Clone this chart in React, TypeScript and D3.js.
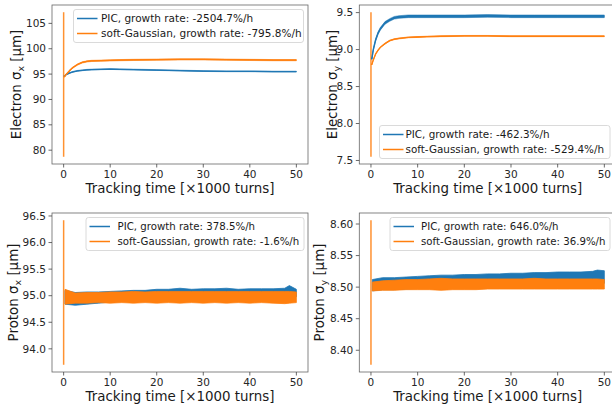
import React from 'react';
import * as d3 from 'd3';

const BLUE = '#1f77b4';
const ORANGE = '#ff7f0e';

// tracking time samples, in 1000 turns
const tElectron = [0.2, 0.5, 1, 1.5, 2, 3, 4, 5, 6, 8, 10, 12, 15, 20, 25, 30, 35, 40, 45, 50];
const tProton = [0.3, 2.5, 5, 7.5, 10, 12.5, 15, 17.5, 20, 22.5, 25, 27.5, 30, 32.5, 35, 37.5, 40, 42.5, 45, 47.5, 48.5, 50];
const xTicks = [0, 10, 20, 30, 40, 50];

// electron sigma_x [um]
const exPIC = [94.6, 94.9, 95.1, 95.3, 95.45, 95.65, 95.75, 95.85, 95.9, 95.95, 96.0, 95.95, 95.9, 95.8, 95.7, 95.6, 95.55, 95.55, 95.5, 95.5];
const exSoft = [94.5, 94.9, 95.4, 95.9, 96.3, 96.9, 97.3, 97.5, 97.6, 97.65, 97.7, 97.75, 97.8, 97.85, 97.9, 97.9, 97.85, 97.8, 97.75, 97.75];
const exNoise = [0.08, 0.12];
const exSpike = [78.7, 107.2];
const exTicks = [80, 85, 90, 95, 100, 105];

// electron sigma_y [um]
const eyPIC = [8.88, 9.0, 9.13, 9.22, 9.28, 9.36, 9.4, 9.43, 9.44, 9.45, 9.45, 9.45, 9.45, 9.45, 9.455, 9.45, 9.45, 9.45, 9.45, 9.45];
const eySoft = [8.8, 8.86, 8.94, 8.99, 9.03, 9.08, 9.12, 9.14, 9.15, 9.165, 9.17, 9.175, 9.18, 9.185, 9.185, 9.18, 9.18, 9.18, 9.18, 9.18];
const eyNoise = [0.018, 0.006];
const eySpike = [7.55, 9.505];
const eyTicks = [7.5, 8.0, 8.5, 9.0, 9.5];

// proton sigma_x [um], upper / lower edge of the noisy band
const pxPICHi = [95.1, 95.06, 95.07, 95.07, 95.08, 95.09, 95.1, 95.1, 95.12, 95.12, 95.14, 95.12, 95.13, 95.13, 95.14, 95.12, 95.13, 95.13, 95.13, 95.14, 95.19, 95.12];
const pxPICLo = [94.84, 94.82, 94.84, 94.86, 94.88, 94.89, 94.9, 94.91, 94.92, 94.93, 94.94, 94.94, 94.95, 94.95, 94.95, 94.96, 94.96, 94.96, 94.97, 94.97, 94.97, 94.98];
const pxSoftHi = [95.12, 95.05, 95.06, 95.06, 95.07, 95.07, 95.08, 95.07, 95.08, 95.08, 95.08, 95.08, 95.08, 95.08, 95.08, 95.08, 95.08, 95.08, 95.08, 95.08, 95.08, 95.07];
const pxSoftLo = [94.84, 94.86, 94.86, 94.87, 94.86, 94.87, 94.86, 94.87, 94.86, 94.87, 94.86, 94.87, 94.86, 94.87, 94.86, 94.87, 94.86, 94.87, 94.86, 94.85, 94.86, 94.87];
const pxSpike = [93.7, 96.42];
const pxTicks = [94.0, 94.5, 95.0, 95.5, 96.0, 96.5];

// proton sigma_y [um]
const pyPICHi = [8.512, 8.515, 8.515, 8.516, 8.517, 8.518, 8.519, 8.519, 8.52, 8.52, 8.521, 8.521, 8.522, 8.522, 8.523, 8.523, 8.524, 8.524, 8.524, 8.525, 8.527, 8.526];
const pyPICLo = [8.494, 8.496, 8.496, 8.497, 8.498, 8.499, 8.5, 8.5, 8.501, 8.502, 8.502, 8.503, 8.503, 8.504, 8.504, 8.505, 8.505, 8.505, 8.506, 8.506, 8.506, 8.506];
const pySoftHi = [8.508, 8.51, 8.511, 8.512, 8.512, 8.513, 8.514, 8.513, 8.513, 8.513, 8.513, 8.513, 8.513, 8.513, 8.514, 8.513, 8.513, 8.513, 8.513, 8.513, 8.513, 8.512];
const pySoftLo = [8.494, 8.495, 8.495, 8.496, 8.496, 8.496, 8.495, 8.496, 8.496, 8.496, 8.497, 8.497, 8.497, 8.497, 8.497, 8.497, 8.497, 8.497, 8.497, 8.497, 8.497, 8.497];
const pySpike = [8.377, 8.606];
const pyTicks = [8.4, 8.45, 8.5, 8.55, 8.6];

const legendLabels = [
  ['PIC, growth rate: -2504.7%/h', 'soft-Gaussian, growth rate: -795.8%/h'],
  ['PIC, growth rate: -462.3%/h', 'soft-Gaussian, growth rate: -529.4%/h'],
  ['PIC, growth rate: 378.5%/h', 'soft-Gaussian, growth rate: -1.6%/h'],
  ['PIC, growth rate: 646.0%/h', 'soft-Gaussian, growth rate: 36.9%/h'],
];

const FONT = 'DejaVu Sans';

type Series = { t: number[]; lo: number[]; hi: number[]; mid?: number[]; color: string };

const band = (t: number[], mid: number[], noise: number, color: string): Series => ({
  t, mid, color,
  lo: mid.map(v => v - noise),
  hi: mid.map(v => v + noise),
});

function Panel(props: any) {
  const { id, box, series, spike, yTicks, yFmt, name, sub, legend, labels, ylabX } = props;
  const [l, t, r, b] = box;
  const x = d3.scaleLinear().domain([-2.5, 52.5]).range([l, r]);
  const all = [...spike, ...series.flatMap((s: Series) => [...s.lo, ...s.hi])];
  const [mn, mx] = d3.extent(all) as [number, number];
  const pad = (mx - mn) * 0.05;
  const y = d3.scaleLinear().domain([mn - pad, mx + pad]).range([b, t]);
  const fmt = d3.format(yFmt);

  return (
    <g fontFamily={FONT}>
      <defs>
        <clipPath id={`clip${id}`}>
          <rect x={l} y={t} width={r - l} height={b - t} />
        </clipPath>
      </defs>
      <g clipPath={`url(#clip${id})`}>
        <line x1={x(0)} x2={x(0)} y1={y(spike[0])} y2={y(spike[1])} stroke={ORANGE} strokeWidth={1.5} opacity={0.85} />
        {series.map((s: Series, k: number) => {
          const area = d3.area<number>()
            .x((_, i) => x(s.t[i]))
            .y0((_, i) => y(s.lo[i]))
            .y1((_, i) => y(s.hi[i]));
          const pts = s.mid ? [[0, s.mid[0]], ...s.t.map((tt, i) => [tt, s.mid![i]])] : [];
          const line = d3.line().x(d => x(d[0])).y(d => y(d[1]));
          return (
            <g key={k}>
              <path d={area(s.lo) || ''} fill={s.color} stroke={s.color} strokeWidth={s.mid ? 0.5 : 0.8} />
              {s.mid && <path d={line(pts as [number, number][]) || ''} fill="none" stroke={s.color} strokeWidth={1.3} />}
            </g>
          );
        })}
      </g>
      <rect x={l} y={t} width={r - l} height={b - t} fill="none" stroke="#666" strokeWidth={0.8} />
      {xTicks.map(v => (
        <g key={v}>
          <line x1={x(v)} x2={x(v)} y1={b} y2={b + 3.5} stroke="#444" strokeWidth={0.8} />
          <text x={x(v)} y={b + 13.5} textAnchor="middle" fontSize={10.5} fill="#262626">{v}</text>
        </g>
      ))}
      {yTicks.map((v: number) => (
        <g key={v}>
          <line x1={l - 3.5} x2={l} y1={y(v)} y2={y(v)} stroke="#444" strokeWidth={0.8} />
          <text x={l - 6} y={y(v)} dy="0.35em" textAnchor="end" fontSize={10.5} fill="#262626">{fmt(v)}</text>
        </g>
      ))}
      <text x={(l + r) / 2} y={b + 29} textAnchor="middle" fontSize={13.4} fill="#1a1a1a">
        Tracking time [×1000 turns]
      </text>
      <text transform={`translate(${ylabX},${(t + b) / 2}) rotate(-90)`} textAnchor="middle" fontSize={13.4} fill="#1a1a1a">
        {name} σ<tspan fontSize={9.5} dy={3}>{sub}</tspan><tspan dy={-3}> [μm]</tspan>
      </text>
      <g>
        <rect x={legend.x} y={legend.y} width={legend.r - legend.x} height={33} rx={2.5}
          fill="white" fillOpacity={0.8} stroke="#d0d0d0" strokeWidth={0.8} />
        {[BLUE, ORANGE].map((c, i) => (
          <g key={c}>
            <line x1={legend.x + 3.5} x2={legend.x + 24} y1={legend.y + 9 + i * 15} y2={legend.y + 9 + i * 15}
              stroke={c} strokeWidth={1.5} />
            <text x={legend.tx} y={legend.y + 9 + i * 15} dy="0.35em" fontSize={legend.fs} fill="#1a1a1a">
              {labels[i]}
            </text>
          </g>
        ))}
      </g>
    </g>
  );
}

export default function App() {
  const p1 = [band(tElectron, exPIC, exNoise[0], BLUE), band(tElectron, exSoft, exNoise[1], ORANGE)];
  const p2 = [band(tElectron, eyPIC, eyNoise[0], BLUE), band(tElectron, eySoft, eyNoise[1], ORANGE)];
  const p3: Series[] = [
    { t: tProton, lo: pxPICLo, hi: pxPICHi, color: BLUE },
    { t: tProton, lo: pxSoftLo, hi: pxSoftHi, color: ORANGE },
  ];
  const p4: Series[] = [
    { t: tProton, lo: pyPICLo, hi: pyPICHi, color: BLUE },
    { t: tProton, lo: pySoftLo, hi: pySoftHi, color: ORANGE },
  ];

  return (
    <svg width={612} height={405} style={{ position: 'absolute', left: 0, top: 0, background: 'white' }}>
      <Panel id={1} box={[52, 5, 308, 164]} series={p1} spike={exSpike} yTicks={exTicks} yFmt="d"
        name="Electron" sub="x" ylabX={20.5} labels={legendLabels[0]}
        legend={{ x: 73.5, y: 9.5, r: 303.5, tx: 101, fs: 10.5 }} />
      <Panel id={2} box={[359.3, 5, 616, 164]} series={p2} spike={eySpike} yTicks={eyTicks} yFmt=".1f"
        name="Electron" sub="y" ylabX={337} labels={legendLabels[1]}
        legend={{ x: 379.5, y: 125.5, r: 610, tx: 405.5, fs: 10.4 }} />
      <Panel id={3} box={[52, 213, 308, 372]} series={p3} spike={pxSpike} yTicks={pxTicks} yFmt=".1f"
        name="Proton" sub="x" ylabX={17.5} labels={legendLabels[2]}
        legend={{ x: 86, y: 217.5, r: 304, tx: 117.5, fs: 10.2 }} />
      <Panel id={4} box={[359.3, 213, 616, 372]} series={p4} spike={pySpike} yTicks={pyTicks} yFmt=".2f"
        name="Proton" sub="y" ylabX={323.5} labels={legendLabels[3]}
        legend={{ x: 390, y: 217.5, r: 610, tx: 421, fs: 10.2 }} />
    </svg>
  );
}
